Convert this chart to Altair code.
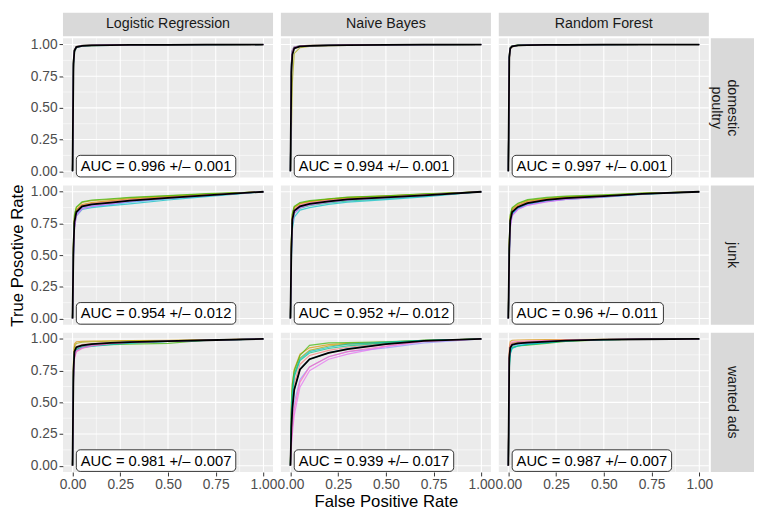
import altair as alt
import pandas as pd

MODELS = ["Logistic Regression", "Naive Bayes", "Random Forest"]
CLASSES = ["domestic poultry", "junk", "wanted ads"]
CLASS_STRIPS = ["domestic\npoultry", "junk", "wanted ads"]
FOLDS = ["Fold01", "Fold02", "Fold03", "Fold04", "Fold05", "Fold06", "Fold07", "Fold08", "Fold09", "Fold10"]
FOLD_COLORS = ["#F8766D", "#D89000", "#A3A500", "#39B600", "#00BF7D",
               "#00BFC4", "#00B0F6", "#9590FF", "#E76BF3", "#FF62BC"]
TICKS = [0.0, 0.25, 0.5, 0.75, 1.0]
MINOR = [0.125, 0.375, 0.625, 0.875]
FPR = [0.005, 0.01, 0.02, 0.05, 0.1, 0.2, 0.3, 0.5, 0.7, 1.0]

AUC_LABELS = [
    ["AUC = 0.996 +/– 0.001", "AUC = 0.994 +/– 0.001", "AUC = 0.997 +/– 0.001"],
    ["AUC = 0.954 +/– 0.012", "AUC = 0.952 +/– 0.012", "AUC = 0.96 +/– 0.011"],
    ["AUC = 0.981 +/– 0.007", "AUC = 0.939 +/– 0.017", "AUC = 0.987 +/– 0.007"],
]

# ---- domestic poultry ----
POULTRY_LR_MEAN = [0.85, 0.95, 0.98, 0.99, 0.993, 0.995, 0.997, 0.998, 0.999, 1.0]
POULTRY_LR_FOLDS = [
    [0.84, 0.95, 0.98, 0.99, 0.993, 0.995, 0.997, 0.998, 0.999, 1.0],
    [0.87, 0.96, 0.985, 0.992, 0.995, 0.996, 0.997, 0.998, 0.999, 1.0],
    [0.82, 0.94, 0.975, 0.988, 0.991, 0.994, 0.996, 0.998, 0.999, 1.0],
    [0.88, 0.96, 0.985, 0.993, 0.995, 0.997, 0.998, 0.999, 1.0, 1.0],
    [0.85, 0.95, 0.98, 0.99, 0.993, 0.995, 0.997, 0.998, 0.999, 1.0],
    [0.83, 0.94, 0.975, 0.987, 0.99, 0.993, 0.996, 0.998, 0.999, 1.0],
    [0.86, 0.955, 0.982, 0.991, 0.994, 0.996, 0.997, 0.998, 0.999, 1.0],
    [0.84, 0.945, 0.978, 0.989, 0.992, 0.995, 0.997, 0.998, 0.999, 1.0],
    [0.87, 0.96, 0.985, 0.993, 0.995, 0.997, 0.998, 0.999, 1.0, 1.0],
    [0.85, 0.95, 0.98, 0.99, 0.993, 0.995, 0.997, 0.998, 0.999, 1.0],
]
POULTRY_NB_MEAN = [0.78, 0.92, 0.97, 0.985, 0.99, 0.993, 0.995, 0.997, 0.999, 1.0]
POULTRY_NB_FOLDS = [
    [0.82, 0.94, 0.975, 0.987, 0.99, 0.993, 0.995, 0.997, 0.999, 1.0],
    [0.84, 0.95, 0.978, 0.988, 0.991, 0.994, 0.996, 0.998, 0.999, 1.0],
    [0.30, 0.70, 0.93, 0.975, 0.985, 0.99, 0.993, 0.996, 0.998, 1.0],
    [0.85, 0.95, 0.98, 0.99, 0.993, 0.995, 0.997, 0.998, 0.999, 1.0],
    [0.83, 0.94, 0.975, 0.987, 0.99, 0.993, 0.995, 0.997, 0.999, 1.0],
    [0.86, 0.955, 0.98, 0.99, 0.992, 0.994, 0.996, 0.998, 0.999, 1.0],
    [0.84, 0.945, 0.976, 0.986, 0.99, 0.993, 0.995, 0.997, 0.999, 1.0],
    [0.85, 0.95, 0.978, 0.988, 0.991, 0.994, 0.996, 0.998, 0.999, 1.0],
    [0.83, 0.94, 0.972, 0.985, 0.989, 0.992, 0.995, 0.997, 0.999, 1.0],
    [0.86, 0.955, 0.98, 0.99, 0.993, 0.995, 0.997, 0.998, 0.999, 1.0],
]
POULTRY_RF_MEAN = [0.90, 0.97, 0.985, 0.993, 0.995, 0.997, 0.998, 0.999, 1.0, 1.0]
POULTRY_RF_FOLDS = [
    [0.89, 0.97, 0.985, 0.993, 0.995, 0.997, 0.998, 0.999, 1.0, 1.0],
    [0.91, 0.975, 0.988, 0.994, 0.996, 0.997, 0.998, 0.999, 1.0, 1.0],
    [0.88, 0.965, 0.982, 0.991, 0.994, 0.996, 0.998, 0.999, 1.0, 1.0],
    [0.92, 0.978, 0.99, 0.995, 0.997, 0.998, 0.999, 1.0, 1.0, 1.0],
    [0.90, 0.97, 0.985, 0.993, 0.995, 0.997, 0.998, 0.999, 1.0, 1.0],
    [0.89, 0.968, 0.984, 0.992, 0.994, 0.996, 0.998, 0.999, 1.0, 1.0],
    [0.91, 0.972, 0.986, 0.993, 0.995, 0.997, 0.998, 0.999, 1.0, 1.0],
    [0.90, 0.97, 0.985, 0.992, 0.995, 0.997, 0.998, 0.999, 1.0, 1.0],
    [0.92, 0.976, 0.988, 0.994, 0.996, 0.998, 0.999, 1.0, 1.0, 1.0],
    [0.88, 0.965, 0.983, 0.992, 0.994, 0.996, 0.998, 0.999, 1.0, 1.0],
]

# ---- junk ----
JUNK_LR_MEAN = [0.55, 0.76, 0.84, 0.885, 0.90, 0.915, 0.93, 0.952, 0.972, 1.0]
JUNK_LR_FOLDS = [
    [0.57, 0.78, 0.855, 0.895, 0.91, 0.925, 0.94, 0.96, 0.978, 1.0],
    [0.58, 0.79, 0.86, 0.90, 0.915, 0.93, 0.945, 0.962, 0.98, 1.0],
    [0.60, 0.81, 0.875, 0.915, 0.93, 0.94, 0.952, 0.968, 0.982, 1.0],
    [0.62, 0.82, 0.88, 0.92, 0.935, 0.945, 0.955, 0.97, 0.985, 1.0],
    [0.54, 0.75, 0.835, 0.88, 0.895, 0.91, 0.925, 0.948, 0.97, 1.0],
    [0.50, 0.72, 0.81, 0.86, 0.875, 0.89, 0.905, 0.935, 0.962, 1.0],
    [0.52, 0.74, 0.825, 0.87, 0.885, 0.90, 0.918, 0.945, 0.968, 1.0],
    [0.50, 0.72, 0.82, 0.87, 0.888, 0.905, 0.922, 0.948, 0.97, 1.0],
    [0.48, 0.70, 0.81, 0.865, 0.885, 0.905, 0.925, 0.95, 0.972, 1.0],
    [0.55, 0.76, 0.84, 0.885, 0.90, 0.917, 0.932, 0.954, 0.974, 1.0],
]
JUNK_NB_MEAN = [0.55, 0.78, 0.85, 0.885, 0.905, 0.925, 0.94, 0.955, 0.972, 1.0]
JUNK_NB_FOLDS = [
    [0.57, 0.80, 0.865, 0.895, 0.915, 0.935, 0.948, 0.962, 0.978, 1.0],
    [0.60, 0.82, 0.875, 0.905, 0.922, 0.94, 0.952, 0.965, 0.98, 1.0],
    [0.60, 0.82, 0.88, 0.91, 0.925, 0.942, 0.955, 0.967, 0.982, 1.0],
    [0.62, 0.83, 0.885, 0.915, 0.93, 0.945, 0.957, 0.968, 0.983, 1.0],
    [0.50, 0.74, 0.83, 0.87, 0.89, 0.912, 0.928, 0.945, 0.965, 1.0],
    [0.45, 0.70, 0.80, 0.855, 0.875, 0.90, 0.918, 0.938, 0.96, 1.0],
    [0.52, 0.76, 0.84, 0.878, 0.90, 0.92, 0.935, 0.952, 0.97, 1.0],
    [0.50, 0.75, 0.835, 0.875, 0.898, 0.92, 0.935, 0.952, 0.97, 1.0],
    [0.48, 0.74, 0.83, 0.872, 0.895, 0.918, 0.935, 0.953, 0.972, 1.0],
    [0.56, 0.79, 0.855, 0.89, 0.91, 0.93, 0.943, 0.958, 0.975, 1.0],
]
JUNK_RF_MEAN = [0.55, 0.77, 0.84, 0.88, 0.91, 0.935, 0.95, 0.965, 0.984, 1.0]
JUNK_RF_FOLDS = [
    [0.57, 0.79, 0.855, 0.89, 0.92, 0.942, 0.955, 0.968, 0.986, 1.0],
    [0.58, 0.80, 0.86, 0.895, 0.925, 0.945, 0.958, 0.97, 0.987, 1.0],
    [0.60, 0.81, 0.87, 0.905, 0.932, 0.95, 0.962, 0.973, 0.988, 1.0],
    [0.62, 0.82, 0.875, 0.91, 0.938, 0.955, 0.965, 0.975, 0.99, 1.0],
    [0.53, 0.76, 0.83, 0.872, 0.905, 0.93, 0.946, 0.962, 0.982, 1.0],
    [0.50, 0.74, 0.82, 0.868, 0.90, 0.925, 0.94, 0.958, 0.98, 1.0],
    [0.52, 0.75, 0.825, 0.87, 0.902, 0.928, 0.944, 0.962, 0.982, 1.0],
    [0.48, 0.72, 0.815, 0.862, 0.895, 0.922, 0.94, 0.96, 0.982, 1.0],
    [0.47, 0.71, 0.81, 0.86, 0.893, 0.92, 0.94, 0.96, 0.982, 1.0],
    [0.55, 0.77, 0.84, 0.88, 0.91, 0.936, 0.95, 0.965, 0.984, 1.0],
]

# ---- wanted ads ----
WANTED_LR_MEAN = [0.75, 0.90, 0.935, 0.95, 0.96, 0.97, 0.976, 0.983, 0.99, 1.0]
WANTED_LR_FOLDS = [
    [0.76, 0.91, 0.94, 0.955, 0.963, 0.972, 0.978, 0.985, 0.991, 1.0],
    [0.85, 0.96, 0.978, 0.982, 0.984, 0.986, 0.988, 0.99, 0.993, 1.0],
    [0.82, 0.94, 0.965, 0.975, 0.978, 0.982, 0.985, 0.988, 0.992, 1.0],
    [0.72, 0.88, 0.92, 0.94, 0.948, 0.955, 0.96, 0.965, 0.99, 1.0],
    [0.70, 0.87, 0.915, 0.935, 0.945, 0.96, 0.97, 0.98, 0.988, 1.0],
    [0.68, 0.86, 0.91, 0.932, 0.942, 0.955, 0.968, 0.98, 0.988, 1.0],
    [0.74, 0.90, 0.932, 0.948, 0.958, 0.968, 0.975, 0.982, 0.99, 1.0],
    [0.73, 0.89, 0.928, 0.945, 0.956, 0.967, 0.975, 0.983, 0.99, 1.0],
    [0.70, 0.86, 0.905, 0.93, 0.948, 0.965, 0.974, 0.983, 0.99, 1.0],
    [0.66, 0.84, 0.90, 0.925, 0.945, 0.963, 0.973, 0.982, 0.99, 1.0],
]
WANTED_NB_MEAN = [0.30, 0.45, 0.60, 0.76, 0.84, 0.89, 0.92, 0.96, 0.985, 1.0]
WANTED_NB_FOLDS = [
    [0.35, 0.50, 0.65, 0.80, 0.87, 0.91, 0.935, 0.965, 0.988, 1.0],
    [0.50, 0.65, 0.76, 0.88, 0.93, 0.955, 0.965, 0.975, 0.99, 1.0],
    [0.45, 0.60, 0.72, 0.85, 0.91, 0.945, 0.96, 0.972, 0.99, 1.0],
    [0.48, 0.64, 0.75, 0.87, 0.95, 0.97, 0.972, 0.978, 0.99, 1.0],
    [0.40, 0.55, 0.70, 0.83, 0.89, 0.925, 0.945, 0.97, 0.988, 1.0],
    [0.42, 0.58, 0.72, 0.84, 0.90, 0.935, 0.96, 0.975, 0.99, 1.0],
    [0.30, 0.45, 0.60, 0.76, 0.84, 0.89, 0.925, 0.96, 0.985, 1.0],
    [0.22, 0.35, 0.50, 0.68, 0.78, 0.86, 0.90, 0.93, 0.97, 1.0],
    [0.15, 0.25, 0.40, 0.62, 0.75, 0.84, 0.88, 0.94, 0.98, 1.0],
    [0.18, 0.30, 0.45, 0.66, 0.78, 0.86, 0.90, 0.945, 0.982, 1.0],
]
WANTED_RF_MEAN = [0.85, 0.93, 0.955, 0.965, 0.972, 0.98, 0.988, 0.995, 0.998, 1.0]
WANTED_RF_FOLDS = [
    [0.87, 0.94, 0.962, 0.97, 0.976, 0.983, 0.99, 0.996, 0.998, 1.0],
    [0.93, 0.98, 0.99, 0.992, 0.994, 0.995, 0.996, 0.997, 0.999, 1.0],
    [0.88, 0.95, 0.968, 0.975, 0.978, 0.982, 0.988, 0.995, 0.998, 1.0],
    [0.80, 0.90, 0.935, 0.945, 0.952, 0.965, 0.98, 0.993, 0.998, 1.0],
    [0.78, 0.89, 0.93, 0.945, 0.955, 0.97, 0.985, 0.994, 0.998, 1.0],
    [0.76, 0.88, 0.925, 0.945, 0.958, 0.972, 0.985, 0.995, 0.998, 1.0],
    [0.82, 0.91, 0.945, 0.958, 0.966, 0.976, 0.987, 0.995, 0.998, 1.0],
    [0.84, 0.92, 0.95, 0.962, 0.97, 0.98, 0.988, 0.995, 0.998, 1.0],
    [0.86, 0.935, 0.958, 0.968, 0.975, 0.983, 0.99, 0.996, 0.999, 1.0],
    [0.90, 0.96, 0.975, 0.98, 0.984, 0.988, 0.992, 0.996, 0.999, 1.0],
]

PANEL_FOLDS = [
    [POULTRY_LR_FOLDS, POULTRY_NB_FOLDS, POULTRY_RF_FOLDS],
    [JUNK_LR_FOLDS, JUNK_NB_FOLDS, JUNK_RF_FOLDS],
    [WANTED_LR_FOLDS, WANTED_NB_FOLDS, WANTED_RF_FOLDS],
]
PANEL_MEANS = [
    [POULTRY_LR_MEAN, POULTRY_NB_MEAN, POULTRY_RF_MEAN],
    [JUNK_LR_MEAN, JUNK_NB_MEAN, JUNK_RF_MEAN],
    [WANTED_LR_MEAN, WANTED_NB_MEAN, WANTED_RF_MEAN],
]

# ---- layout / style ----
PW, PH = 214, 142
SP = 8
STRIP_H = 18
STRIP_W = 38
OVER = 6
DOMAIN = [-0.05, 1.05]
FONT = "Liberation Sans"
AUC_FS = 15
STRIP_FS = 14.5
PX_X = PW / (DOMAIN[1] - DOMAIN[0])
PX_Y = PH / (DOMAIN[1] - DOMAIN[0])
EM = {"A": 0.667, "U": 0.722, "C": 0.722, " ": 0.278, "=": 0.584, ".": 0.278,
      "+": 0.584, "/": 0.278, "–": 0.556}


def text_px(s, fs):
    return sum(EM.get(ch, 0.556) for ch in s) * fs


def make_axis(title_pad):
    return alt.Axis(values=TICKS, format=".2f", grid=False, domain=False, ticks=True,
                    tickColor="#333333", tickSize=4, tickWidth=1,
                    labelColor="#4D4D4D", labelFontSize=14, labelFont=FONT,
                    labelPadding=2, labelOverlap=False, labelFlush=False,
                    titleFont=FONT, titleFontSize=17, titleFontWeight="normal",
                    titleColor="black", titlePadding=title_pad)


def xenc(field, show, title):
    return alt.X(field, type="quantitative",
                 scale=alt.Scale(domain=DOMAIN, nice=False, zero=False),
                 axis=make_axis(2) if show else None, title=title)


def yenc(field, show, title):
    return alt.Y(field, type="quantitative",
                 scale=alt.Scale(domain=DOMAIN, nice=False, zero=False),
                 axis=make_axis(4) if show else None, title=title)


def panel(r, c):
    showx = r == 2
    showy = c == 0
    xt = "False Positive Rate" if (r == 2 and c == 1) else None
    yt = "True Posotive Rate" if (r == 1 and c == 0) else None

    rows = []
    for name, tprs in zip(FOLDS, PANEL_FOLDS[r][c]):
        rows.append({"fold": name, "fpr": 0.0, "tpr": 0.0})
        for f, t in zip(FPR, tprs):
            rows.append({"fold": name, "fpr": f, "tpr": t})
    folds_df = pd.DataFrame(rows)
    mean_df = pd.DataFrame({"fpr": [0.0] + FPR, "tpr": [0.0] + PANEL_MEANS[r][c]})

    label = AUC_LABELS[r][c]
    x1 = 0.02
    pad = 4.5
    box_w = (text_px(label, AUC_FS) + 2 * pad) / PX_X
    y1 = -0.045
    box_h = 22 / PX_Y
    box_df = pd.DataFrame({"x1": [x1], "x2": [x1 + box_w], "y1": [y1], "y2": [y1 + box_h],
                           "tx": [x1 + pad / PX_X], "ty": [y1 + box_h / 2], "label": [label]})

    minor_df = pd.DataFrame({"v": MINOR})
    major_df = pd.DataFrame({"v": TICKS})

    def X(f):
        return xenc(f, showx, xt)

    def Y(f):
        return yenc(f, showy, yt)

    gx_min = alt.Chart(minor_df).mark_rule(color="white", strokeWidth=0.55).encode(x=X("v"))
    gy_min = alt.Chart(minor_df).mark_rule(color="white", strokeWidth=0.55).encode(y=Y("v"))
    gx_maj = alt.Chart(major_df).mark_rule(color="white", strokeWidth=1.1).encode(x=X("v"))
    gy_maj = alt.Chart(major_df).mark_rule(color="white", strokeWidth=1.1).encode(y=Y("v"))

    fold_lines = alt.Chart(folds_df).mark_line(strokeWidth=1.2, opacity=0.7).encode(
        x=X("fpr"), y=Y("tpr"),
        color=alt.Color("fold:N", scale=alt.Scale(domain=FOLDS, range=FOLD_COLORS), legend=None),
    )
    mean_line = alt.Chart(mean_df).mark_line(color="black", strokeWidth=1.8).encode(
        x=X("fpr"), y=Y("tpr"))
    box = alt.Chart(box_df).mark_rect(fill="white", stroke="black", strokeWidth=0.8,
                                      cornerRadius=4).encode(
        x=X("x1"), x2="x2", y=Y("y1"), y2="y2")
    txt = alt.Chart(box_df).mark_text(align="left", baseline="middle", font=FONT,
                                      fontSize=AUC_FS, color="black").encode(
        x=X("tx"), y=Y("ty"), text="label:N")

    return alt.layer(gx_min, gy_min, gx_maj, gy_maj, fold_lines, mean_line, box, txt).properties(
        width=PW, height=PH)


CLEAR = alt.ViewBackground(fill="transparent", strokeWidth=0)


def col_strip(label):
    base = alt.Chart(pd.DataFrame({"label": [label]}))
    rect = base.mark_rect(color="#D9D9D9").encode(
        x=alt.value(0), x2=alt.value(PW), y=alt.value(0), y2=alt.value(STRIP_H + OVER))
    t = base.mark_text(font=FONT, fontSize=STRIP_FS, color="#1A1A1A", align="center",
                       baseline="middle").encode(
        x=alt.value(PW / 2), y=alt.value((STRIP_H + OVER) / 2), text="label:N")
    return alt.layer(rect, t).properties(width=PW, height=STRIP_H, view=CLEAR)


def row_strip(label):
    base = alt.Chart(pd.DataFrame({"label": [label]}))
    rect = base.mark_rect(color="#D9D9D9").encode(
        x=alt.value(-OVER), x2=alt.value(STRIP_W), y=alt.value(0), y2=alt.value(PH))
    t = base.mark_text(font=FONT, fontSize=STRIP_FS, color="#1A1A1A", align="center",
                       baseline="middle", angle=90, lineBreak="\n").encode(
        x=alt.value((STRIP_W - OVER) / 2), y=alt.value(PH / 2), text="label:N")
    return alt.layer(rect, t).properties(width=STRIP_W, height=PH, view=CLEAR)


empty = alt.Chart(pd.DataFrame({"a": [0]})).mark_text(text=" ", fontSize=1).encode(
    x=alt.value(STRIP_W / 2), y=alt.value(STRIP_H / 2)).properties(
    width=STRIP_W, height=STRIP_H, view=CLEAR)

cells = [col_strip(m) for m in MODELS] + [empty]
for r in range(3):
    for c in range(3):
        cells.append(panel(r, c))
    cells.append(row_strip(CLASS_STRIPS[r]))

chart = alt.concat(*cells, columns=4, spacing=SP, bounds="flush", align="each").properties(
    padding=0, background="white"
).configure_view(fill="#EBEBEB", strokeWidth=0)

chart.save("out.html", embed_options={"renderer": "svg", "actions": False})
